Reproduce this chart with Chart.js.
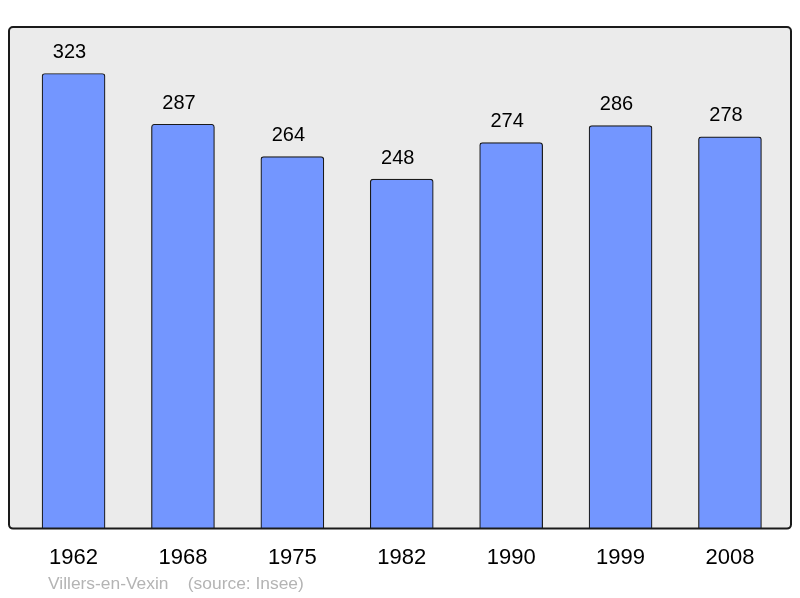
<!DOCTYPE html>
<html>
<head>
<meta charset="utf-8">
<script src="https://cdn.jsdelivr.net/npm/chart.js@4/dist/chart.umd.min.js"></script>
<style>
html,body{margin:0;padding:0;background:#fff;}
#wrap{width:800px;height:598px;position:relative;}
</style>
</head>
<body>
<div id="wrap"><canvas id="c" width="800" height="598"></canvas></div>
<script>
const years = ['1962','1968','1975','1982','1990','1999','2008'];
const population = [323, 287, 264, 248, 274, 286, 278];
const footerText = 'Villers-en-Vexin    (source: Insee)';

const points = population.map((v, i) => ({x: i, y: v}));

const framePlugin = {
  id: 'frame',
  beforeDatasetsDraw(chart) {
    const {ctx, chartArea: a} = chart;
    ctx.save();
    ctx.fillStyle = '#ebebeb';
    ctx.beginPath();
    ctx.roundRect(a.left, a.top, a.right - a.left, a.bottom - a.top, 4);
    ctx.fill();
    ctx.restore();
  },
  afterDatasetsDraw(chart) {
    const {ctx, chartArea: a} = chart;
    ctx.save();
    ctx.strokeStyle = '#1a1a1a';
    ctx.lineWidth = 2;
    ctx.beginPath();
    ctx.roundRect(a.left, a.top, a.right - a.left, a.bottom - a.top, 4);
    ctx.stroke();
    const meta = chart.getDatasetMeta(0);
    ctx.fillStyle = '#000';
    ctx.font = '20px "Liberation Sans", Arial, sans-serif';
    ctx.textAlign = 'center';
    ctx.textBaseline = 'middle';
    meta.data.forEach((el, i) => {
      ctx.fillText(String(population[i]), el.x - 4, el.y - 21);
    });
    ctx.fillStyle = '#b4b4b4';
    ctx.font = '17.4px "Liberation Sans", Arial, sans-serif';
    ctx.textAlign = 'left';
    ctx.fillText(footerText, a.left + 39, a.bottom + 56);
    ctx.restore();
  }
};

new Chart(document.getElementById('c'), {
  type: 'bar',
  data: {
    datasets: [{
      data: points,
      backgroundColor: '#7396ff',
      borderColor: '#1a1a1a',
      borderWidth: 1.2,
      borderRadius: 3,
      borderSkipped: 'bottom',
      barThickness: 63
    }]
  },
  options: {
    responsive: false,
    animation: false,
    devicePixelRatio: 1,
    layout: {padding: {left: 9, right: 9, top: 27, bottom: 11}},
    plugins: {legend: {display: false}, tooltip: {enabled: false}},
    scales: {
      x: {
        type: 'linear',
        offset: false,
        min: -0.59,
        max: 6.558,
        grid: {display: false, drawTicks: false},
        border: {display: false},
        afterBuildTicks: (scale) => { scale.ticks = years.map((_, i) => ({value: i})); },
        ticks: {
          autoSkip: false,
          maxRotation: 0,
          padding: 16,
          color: '#000',
          font: {size: 22, family: '"Liberation Sans", Arial, sans-serif'},
          callback: (v) => years[v] !== undefined ? years[v] : ''
        }
      },
      y: {
        display: false,
        min: 0,
        max: 356
      }
    }
  },
  plugins: [framePlugin]
});
</script>
</body>
</html>
